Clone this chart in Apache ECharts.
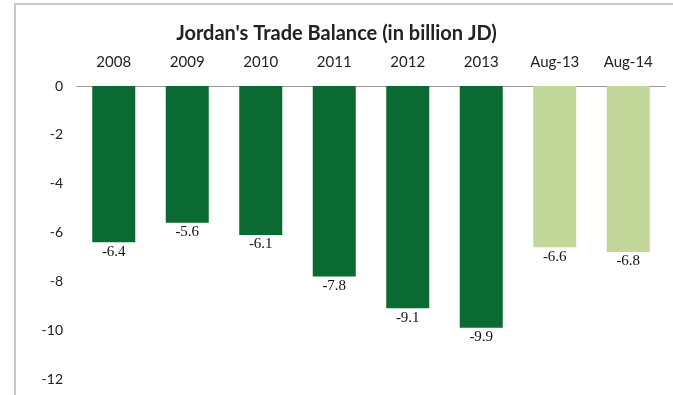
<!DOCTYPE html>
<html>
<head>
<meta charset="utf-8">
<script src="https://cdn.jsdelivr.net/npm/echarts@6/dist/echarts.min.js"></script>
<style>
  html, body { margin: 0; padding: 0; background: #fff; }
  #chart { width: 673px; height: 395px; }
</style>
</head>
<body>
<div id="chart"></div>
<script>
// categories and values (billion JD)
var categories = ['2008', '2009', '2010', '2011', '2012', '2013', 'Aug-13', 'Aug-14'];
var balance = [-6.4, -5.6, -6.1, -7.8, -9.1, -9.9, -6.6, -6.8];
var barColors = ['#0a6a32', '#0a6a32', '#0a6a32', '#0a6a32', '#0a6a32', '#0a6a32', '#c4d79b', '#c4d79b'];

var chart = echarts.init(document.getElementById('chart'));

var option = {
    animation: false,
    title: {
        text: "Jordan's Trade Balance (in billion JD)",
        left: 'center',
        top: 19,
        textStyle: {
            fontFamily: 'Lato',
            fontSize: 20,
            fontWeight: 'bold',
            color: '#222'
        }
    },
    graphic: [{
        type: 'polyline',
        shape: { points: [[15, 400], [15, 4], [680, 4]] },
        style: { stroke: '#c8c8c8', lineWidth: 2, fill: null }
    }],
    grid: { left: 77, right: 8, top: 86, bottom: 16 },
    xAxis: {
        type: 'category',
        position: 'top',
        data: categories,
        axisLine: { lineStyle: { color: '#999' } },
        axisTick: { show: true, alignWithLabel: true, inside: true, length: 4, lineStyle: { color: '#999' } },
        axisLabel: { margin: 16, fontFamily: 'Lato', fontSize: 15, color: '#222' }
    },
    yAxis: {
        type: 'value',
        min: -12,
        max: 0,
        interval: 2,
        axisLine: { show: false },
        axisTick: { show: false },
        splitLine: { show: false },
        axisLabel: { margin: 14, fontFamily: 'Lato', fontSize: 14, color: '#222' }
    },
    series: [{
        type: 'bar',
        barWidth: 43,
        data: balance.map(function(v, i) {
            return { value: v, itemStyle: { color: barColors[i] } };
        }),
        label: {
            show: true,
            position: 'bottom',
            distance: 2,
            fontFamily: 'Liberation Serif',
            fontSize: 15,
            color: '#111'
        }
    }]
};
chart.setOption(option);
</script>
</body>
</html>
